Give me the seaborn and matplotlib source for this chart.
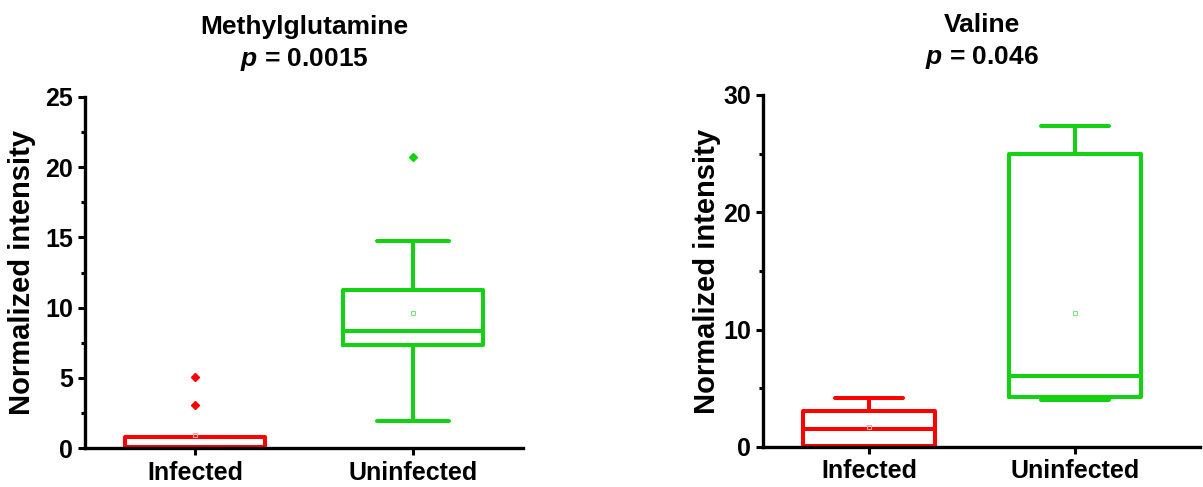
import matplotlib
matplotlib.use("Agg")
import matplotlib.pyplot as plt
import seaborn as sns
from matplotlib.ticker import MultipleLocator

groups = ["Infected", "Uninfected"]
colors = ["#FF0000", "#12D212"]
mean_colors = ["#F0A0A0", "#80E080"]

# Methylglutamine summary stats
mg_q1 = [0.05, 7.35]
mg_med = [0.05, 8.35]
mg_q3 = [0.75, 11.25]
mg_lo = [0.0, 1.95]
mg_hi = [0.75, 14.75]
mg_mean = [0.95, 9.6]
mg_fliers = [[3.05, 5.05], [20.75]]

# Valine summary stats
val_q1 = [0.05, 4.3]
val_med = [1.55, 6.05]
val_q3 = [3.05, 24.95]
val_lo = [0.0, 4.0]
val_hi = [4.2, 27.35]
val_mean = [1.7, 11.4]
val_fliers = [[], []]

sns.set_style("ticks")
plt.rcParams['font.family'] = ['Liberation Sans', 'DejaVu Sans']
plt.rcParams['font.weight'] = 'bold'
plt.rcParams['text.color'] = 'black'
plt.rcParams['axes.labelcolor'] = 'black'
plt.rcParams['axes.edgecolor'] = 'black'
plt.rcParams['xtick.color'] = 'black'
plt.rcParams['ytick.color'] = 'black'
plt.rcParams['mathtext.fontset'] = 'custom'
plt.rcParams['mathtext.it'] = 'Liberation Sans:italic:bold'
plt.rcParams['mathtext.rm'] = 'Liberation Sans:bold'


def make_stats(q1, med, q3, lo, hi, mean, fliers):
    stats = []
    for i, g in enumerate(groups):
        stats.append(dict(label=g, q1=q1[i], med=med[i], q3=q3[i],
                          whislo=lo[i], whishi=hi[i], mean=mean[i],
                          fliers=fliers[i]))
    return stats


def draw_panel(ax, stats, title, ymax, major, minor, xlim, ylabel_x):
    for i, st in enumerate(stats):
        c = colors[i]
        ax.bxp([st], positions=[i], widths=0.645, showmeans=True,
               showfliers=True, patch_artist=False,
               boxprops=dict(color=c, linewidth=2.9),
               medianprops=dict(color=c, linewidth=2.9),
               whiskerprops=dict(color=c, linewidth=2.9),
               capprops=dict(color=c, linewidth=2.9),
               capwidths=0.33,
               flierprops=dict(marker='D', markersize=4, markerfacecolor=c,
                               markeredgecolor=c),
               meanprops=dict(marker='s', markersize=3.5, markerfacecolor='none',
                              markeredgecolor=mean_colors[i], markeredgewidth=0.8))
    ax.set_xticks([0, 1])
    ax.set_xticklabels(groups, fontsize=18, fontweight='bold')
    ax.set_xlim(*xlim)
    ax.set_ylim(0, ymax)
    ax.yaxis.set_major_locator(MultipleLocator(major))
    ax.yaxis.set_minor_locator(MultipleLocator(minor))
    ax.tick_params(axis='y', labelsize=18, width=2.2, length=5)
    ax.tick_params(axis='y', which='minor', width=2.2, length=3)
    ax.tick_params(axis='x', labelsize=18, width=2.2, length=5, pad=4)
    for lab in ax.get_yticklabels():
        lab.set_fontweight('bold')
    ax.set_ylabel("Normalized intensity", fontsize=21, fontweight='bold')
    ax.yaxis.set_label_coords(ylabel_x, 0.5)
    for s in ['left', 'bottom']:
        ax.spines[s].set_linewidth(2.4)
    sns.despine(ax=ax)
    ax.set_title(title, fontsize=19, fontweight='bold', pad=22, linespacing=1.35)


fig = plt.figure(figsize=(12.03, 4.87), dpi=100)
ax1 = fig.add_axes([85 / 1203, 39 / 487, 438 / 1203, 351 / 487])
ax2 = fig.add_axes([763 / 1203, 40 / 487, 437 / 1203, 352 / 487])

draw_panel(ax1, make_stats(mg_q1, mg_med, mg_q3, mg_lo, mg_hi, mg_mean, mg_fliers),
           "Methylglutamine\n$\\mathit{p}$ = 0.0015", 25, 5, 2.5, (-0.505, 1.505), -0.112)
draw_panel(ax2, make_stats(val_q1, val_med, val_q3, val_lo, val_hi, val_mean, val_fliers),
           "Valine\n$\\mathit{p}$ = 0.046", 30, 10, 5, (-0.515, 1.607), -0.097)

fig.savefig("out.png", dpi=100)
